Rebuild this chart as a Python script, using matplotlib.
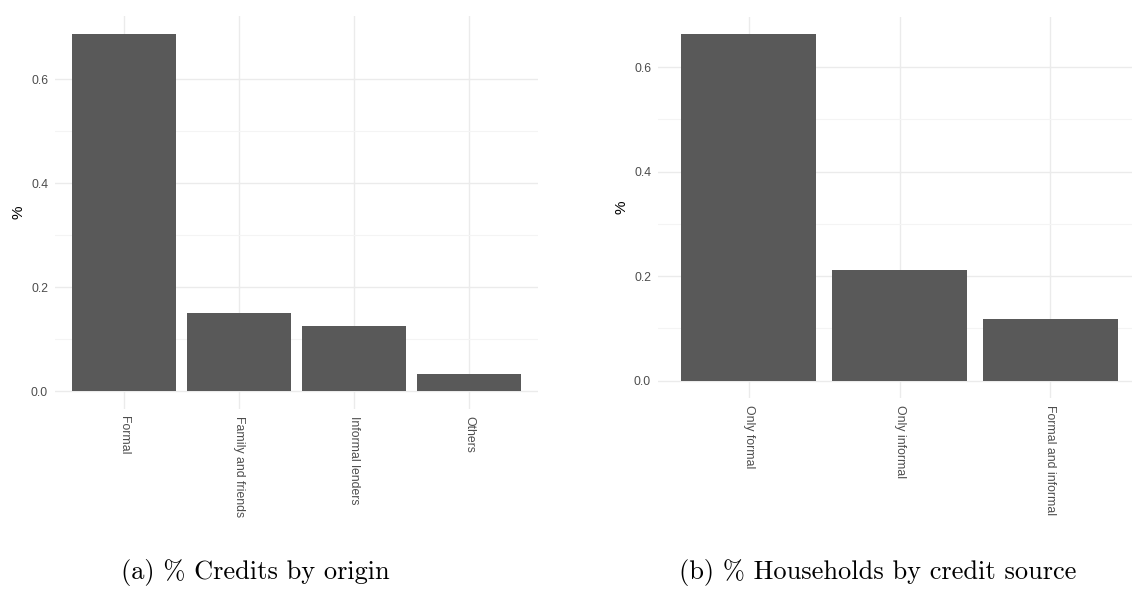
import numpy as np
import matplotlib.pyplot as plt

# credit shares by origin
origin_labels = ['Formal', 'Family and friends', 'Informal lenders', 'Others']
origin_share = [0.687, 0.150, 0.125, 0.033]

# households by credit source
source_labels = ['Only formal', 'Only informal', 'Formal and informal']
source_share = [0.663, 0.212, 0.119]

y_ticks = [0.0, 0.2, 0.4, 0.6]
y_minor = [0.1, 0.3, 0.5]

plt.rcParams['font.family'] = ['Liberation Sans', 'DejaVu Sans']

fig = plt.figure(figsize=(11.32, 5.97), dpi=100)
ax1 = fig.add_axes([55/1132, 1 - 409/597, (538 - 55)/1132, (409 - 16)/597])
ax2 = fig.add_axes([658/1132, 1 - 398/597, (1141 - 658)/1132, (398 - 17)/597])


def bar_panel(ax, labels, values):
    x = np.arange(len(labels))
    ax.bar(x, values, width=0.9, color='#595959', zorder=3)
    # ggplot-like expansion of the scales
    ymax = max(values)
    ax.set_xlim(-0.6, len(labels) - 0.4)
    ax.set_ylim(-0.05 * ymax, 1.05 * ymax)
    ax.set_xticks(x)
    ax.set_xticklabels(labels, rotation=270, ha='center', va='top',
                       fontsize=8.8, color='#4d4d4d')
    ax.set_yticks(y_ticks)
    ax.set_yticklabels(['%.1f' % v for v in y_ticks], fontsize=8.8, color='#4d4d4d')
    ax.set_yticks(y_minor, minor=True)
    ax.tick_params(axis='both', which='both', length=0)
    ax.tick_params(axis='x', pad=5)
    ax.tick_params(axis='y', pad=5)
    ax.grid(True, which='major', color='#ebebeb', linewidth=1.0, zorder=0)
    ax.grid(True, which='minor', axis='y', color='#f4f4f4', linewidth=0.8, zorder=0)
    for s in ax.spines.values():
        s.set_visible(False)
    ax.set_ylabel('%', fontsize=11, color='black', labelpad=4)


bar_panel(ax1, origin_labels, origin_share)
bar_panel(ax2, source_labels, source_share)

fig.text(255/1132, 1 - 573/597, '(a) % Credits by origin', family='cmr10',
         fontsize=19, ha='center', va='center')
fig.text(878/1132, 1 - 573/597, '(b) % Households by credit source', family='cmr10',
         fontsize=19, ha='center', va='center')

fig.savefig('out.png', dpi=100)
